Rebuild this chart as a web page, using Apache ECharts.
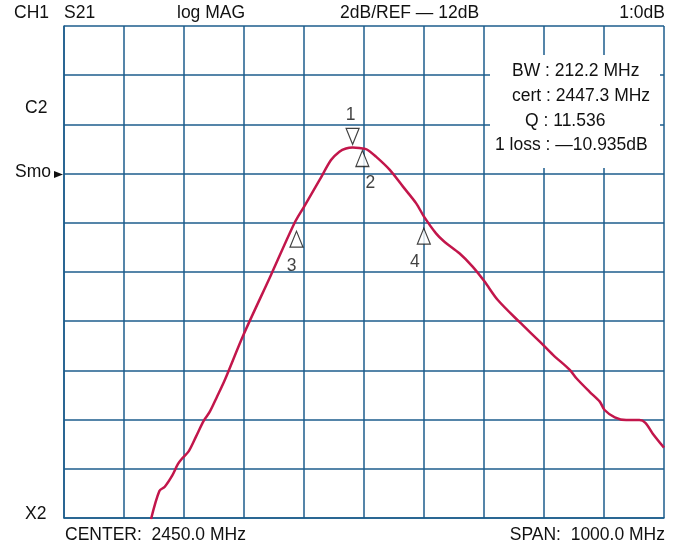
<!DOCTYPE html>
<html>
<head>
<meta charset="utf-8">
<script src="https://cdn.jsdelivr.net/npm/echarts@6/dist/echarts.min.js"></script>
<style>
  html, body { margin: 0; padding: 0; background: #ffffff; }
  #chart { width: 677px; height: 546px; }
</style>
</head>
<body>
<div id="chart"></div>
<script>
// ---- data (frequency in MHz, level in dB) ----
const freqMHz = [2095, 2109, 2118, 2131, 2140, 2148, 2158, 2170, 2183, 2193, 2205, 2218, 2249, 2295, 2334, 2350, 2376, 2395, 2409, 2420, 2431, 2442, 2454, 2470, 2493, 2515, 2537, 2550, 2570, 2584, 2609, 2631, 2651, 2673, 2709, 2743, 2765, 2793, 2804, 2826, 2843, 2851, 2868, 2887, 2909, 2919, 2931, 2950];
const levelDB = [-26.05, -24.90, -24.73, -24.25, -23.80, -23.55, -23.28, -22.69, -22.04, -21.68, -21.07, -20.39, -18.56, -16.12, -14.02, -13.35, -12.26, -11.45, -11.11, -10.98, -10.94, -10.96, -11.01, -11.31, -11.85, -12.53, -13.21, -13.75, -14.43, -14.77, -15.24, -15.78, -16.39, -17.14, -18.03, -18.83, -19.37, -19.98, -20.32, -20.87, -21.27, -21.61, -21.91, -22.02, -22.02, -22.13, -22.56, -23.14];

const markerNames = ['1', '2', '3', '4'];
const markerFreq = [2431, 2447.3, 2337.5, 2549.7];
const markerLevel = [-10.935, -10.98, -13.935, -13.935];

const headerTexts = ['CH1', 'S21', 'log MAG', '2dB/REF \u2014 12dB', '1:0dB'];
const sideTexts = ['C2', 'Smo', 'X2'];
const footerTexts = ['CENTER:  2450.0 MHz', 'SPAN:  1000.0 MHz'];
const readoutTexts = ['BW : 212.2 MHz', 'cert : 2447.3 MHz', 'Q : 11.536', '1 loss : \u201410.935dB'];

const xMin = 1950, xMax = 2950, xStep = 100;
const yMin = -26, yMax = -6, yStep = 2;

// ---- styles ----
const FONT = "'Liberation Sans', Arial, Helvetica, sans-serif";
const FS = 17.5;
const TXT = '#111111';
const GRIDC = '#1c5d8c';
const TRACE = '#c2164b';

const chart = echarts.init(document.getElementById('chart'), null, { renderer: 'canvas' });

const traceData = freqMHz.map((f, i) => [f, levelDB[i]]);

const markerStyle = [
  { rot: 180, off: [0, -11], lpos: 'top', ldist: 4, loff: [-2, 0] },
  { rot: 0, off: [0, 10], lpos: 'bottom', ldist: 7, loff: [8, 0] },
  { rot: 0, off: [0, 18], lpos: 'bottom', ldist: 9, loff: [-5, 0] },
  { rot: 0, off: [0, 15], lpos: 'bottom', ldist: 8, loff: [-9, 0] }
];
const markerData = markerNames.map((n, i) => ({
  name: n,
  value: [markerFreq[i], markerLevel[i]],
  symbolRotate: markerStyle[i].rot,
  symbolOffset: markerStyle[i].off,
  label: {
    show: true,
    formatter: n,
    position: markerStyle[i].lpos,
    distance: markerStyle[i].ldist,
    offset: markerStyle[i].loff,
    fontSize: FS, fontFamily: FONT, color: TXT
  }
}));

function txt(x, y, s, align, extra) {
  return Object.assign({
    type: 'text', x: x, y: y, z: 100,
    style: { text: s, fontSize: FS, fontFamily: FONT, fill: TXT, align: align || 'left', verticalAlign: 'middle' }
  }, extra || {});
}

const option = {
  backgroundColor: '#ffffff',
  animation: false,
  grid: { left: 64, right: 13, top: 26, bottom: 28, containLabel: false },
  xAxis: {
    type: 'value', min: xMin, max: xMax, interval: xStep,
    axisLine: { show: true, onZero: false, lineStyle: { color: GRIDC, width: 1.5 } },
    axisTick: { show: false }, axisLabel: { show: false },
    splitLine: { show: true, lineStyle: { color: GRIDC, width: 1.5 } }
  },
  yAxis: {
    type: 'value', min: yMin, max: yMax, interval: yStep,
    axisLine: { show: true, onZero: false, lineStyle: { color: GRIDC, width: 1.5 } },
    axisTick: { show: false }, axisLabel: { show: false },
    splitLine: { show: true, lineStyle: { color: GRIDC, width: 1.5 } }
  },
  series: [
    {
      type: 'line', data: traceData, smooth: 0.3, showSymbol: false, clip: true,
      lineStyle: { color: TRACE, width: 2.5 }, z: 3
    },
    {
      type: 'scatter', data: markerData, symbol: 'triangle', symbolSize: [13, 16],
      itemStyle: { color: '#ffffff', borderColor: '#111111', borderWidth: 1.2 },
      z: 4
    }
  ],
  graphic: [
    // readout box
    { type: 'rect', shape: { x: 490, y: 55, width: 170, height: 113 }, style: { fill: '#ffffff' }, z: 90 },
    txt(512, 71, readoutTexts[0]),
    txt(512, 96, readoutTexts[1]),
    txt(525, 121, readoutTexts[2]),
    txt(495, 145, readoutTexts[3]),
    // header
    txt(14, 13, headerTexts[0]),
    txt(64, 13, headerTexts[1]),
    txt(177, 13, headerTexts[2]),
    txt(340, 13, headerTexts[3]),
    txt(665, 13, headerTexts[4], 'right'),
    // side labels
    txt(25, 108, sideTexts[0]),
    txt(15, 172, sideTexts[1]),
    { type: 'polygon', shape: { points: [[54, 171], [63, 174.5], [54, 178]] }, style: { fill: '#111111' }, z: 100 },
    txt(25, 514, sideTexts[2]),
    // footer
    txt(65, 535, footerTexts[0]),
    txt(665, 535, footerTexts[1], 'right')
  ]
};
chart.setOption(option);
</script>
</body>
</html>
